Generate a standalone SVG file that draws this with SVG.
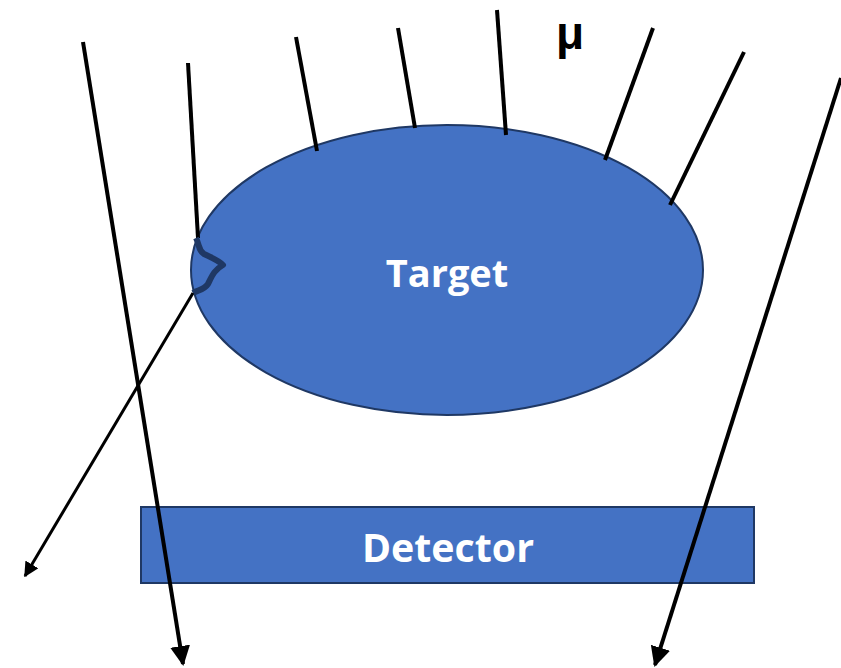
<svg xmlns="http://www.w3.org/2000/svg" width="841" height="668" viewBox="0 0 841 668">
<style>
.shape{fill:#4472C4;stroke:#1F3864;stroke-width:2}
.lbl{font-family:"Open Sans","Liberation Sans",sans-serif;font-weight:bold;fill:#ffffff;text-anchor:middle}
.ray{stroke:#000;stroke-width:4;fill:none;stroke-linecap:butt}
.ray2{stroke:#000;stroke-width:3;fill:none}
</style>
<defs>
<marker id="ah" viewBox="0 0 10 10" refX="9" refY="5" markerWidth="5" markerHeight="5" orient="auto" markerUnits="strokeWidth">
<path d="M0,0 L10,5 L0,10 Z" fill="#000"/>
</marker>
</defs>
<rect width="841" height="668" fill="#ffffff"/>
<g id="target">
<ellipse class="shape" cx="447" cy="270" rx="256" ry="145"/>
<text class="lbl" x="447" y="287" font-size="38">Target</text>
</g>
<g id="detector">
<rect class="shape" x="141" y="507" width="613" height="76"/>
<text class="lbl" x="448" y="562" font-size="39" textLength="172" lengthAdjust="spacingAndGlyphs">Detector</text>
</g>
<g id="mu">
<text x="570" y="49" font-family="Liberation Sans, Arial, sans-serif" font-weight="bold" font-size="46" text-anchor="middle" fill="#000">μ</text>
</g>
<g id="connectors">
<line class="ray" x1="83" y1="42" x2="183" y2="664" marker-end="url(#ah)"/>
<line class="ray" x1="188" y1="63" x2="198" y2="238"/>
<line class="ray" x1="296" y1="37" x2="317" y2="151"/>
<line class="ray" x1="398" y1="28" x2="415" y2="128"/>
<line class="ray" x1="497" y1="10" x2="506" y2="135"/>
<line class="ray" x1="653" y1="28" x2="605" y2="160"/>
<line class="ray" x1="744" y1="52" x2="670" y2="205"/>
<line class="ray" x1="841" y1="78" x2="655" y2="665" marker-end="url(#ah)"/>
<path d="M196,238 C200,246 198,250 204,254 C212,258 218,260 223,265 C214,270 212,276 208,284 C204,290 198,290 193,293" fill="none" stroke="#1F3864" stroke-width="6" stroke-linejoin="round"/>
<line class="ray2" x1="193" y1="293" x2="25" y2="576" marker-end="url(#ah)"/>
</g>
</svg>
